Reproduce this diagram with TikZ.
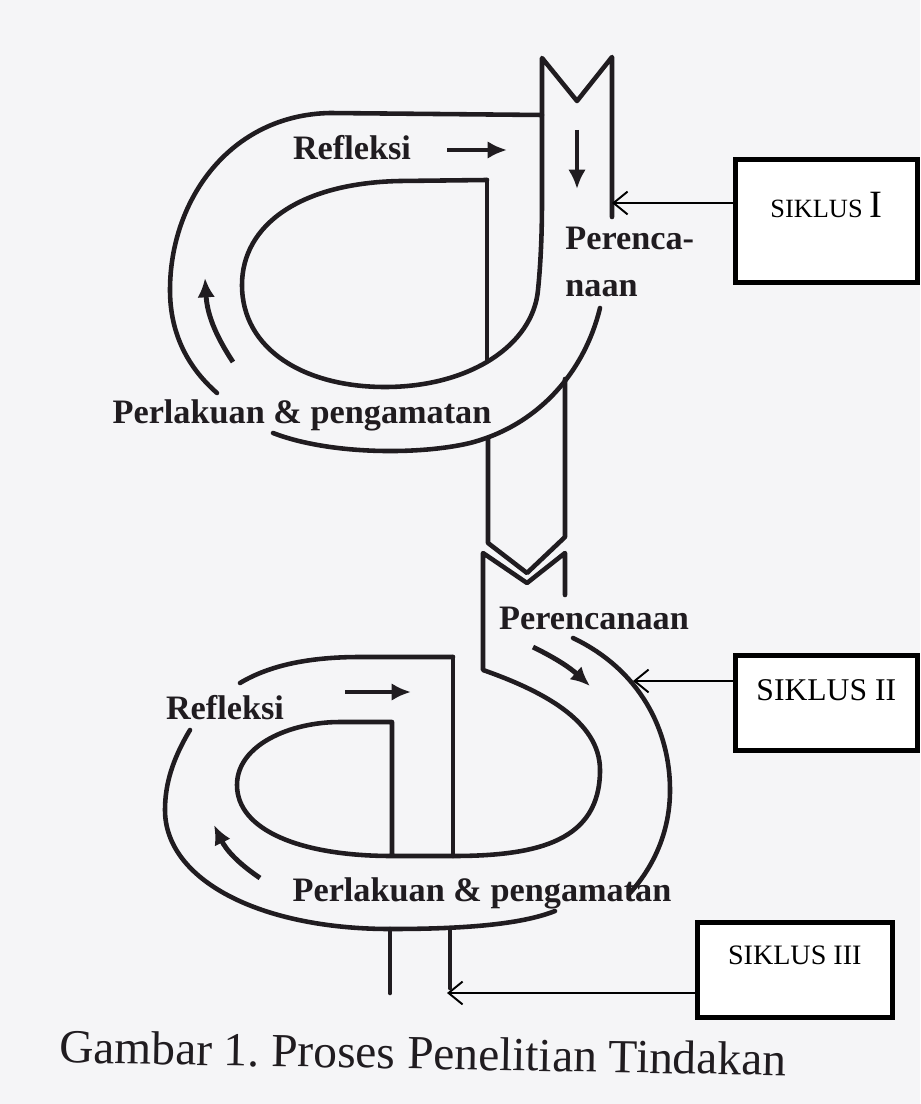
\documentclass[tikz,border=0pt]{standalone}
\usepackage{fontspec}
\setmainfont{Liberation Serif}
\usetikzlibrary{arrows.meta}

\definecolor{paper}{RGB}{245,245,247}
\definecolor{ink}{RGB}{32,28,32}

\begin{document}
\begin{tikzpicture}[x=0.02cm, y=-0.02cm,
    loop/.style={draw=ink, line width=2.6pt, line join=round, line cap=round},
    flow/.style={draw=ink, line width=2.8pt, -{Latex[length=11pt,width=10pt]}},
    lbl/.style={font=\fontsize{19.5}{26.5}\selectfont\bfseries, text=ink, inner sep=0pt},
    siklusbox/.style={draw=black, fill=white, line width=2.6pt, anchor=north west, align=center, inner sep=0pt},
    callout/.style={draw=black, line width=1.1pt, -{Straight Barb[length=8pt,width=13pt]}}]
  \fill[paper] (0,0) rectangle (920,1104);
  \useasboundingbox (0,0) rectangle (920,1104);

  % siklus I
  \draw[loop] (487,180) -- (400,181) .. controls (300,183) and (242,225) .. (242,285)
    .. controls (242,350) and (305,387) .. (385,387)
    .. controls (470,387) and (533,345) .. (538,290)
    .. controls (541,260) and (542,230) .. (542,200) -- (542,58) -- (577,101) -- (612,57) -- (612,217);
  \draw[loop] (487,180) -- (487,361);
  \draw[loop] (542,115) -- (330,113) .. controls (230,115) and (170,200) .. (170,290)
    .. controls (170,330) and (185,365) .. (217,393);
  \draw[loop] (600,308) .. controls (585,370) and (540,425) .. (470,443)
    .. controls (420,455) and (330,455) .. (273,433);
  \draw[loop] (565,379) -- (565,537) -- (527,573) -- (488,543) -- (488,438);

  % siklus II
  \draw[loop] (565,595) -- (565,553) -- (527,583) -- (483,553) -- (483,670)
    .. controls (540,690) and (600,720) .. (600,770)
    .. controls (600,840) and (540,856) .. (453,856) -- (392,856)
    .. controls (300,856) and (237,830) .. (237,785)
    .. controls (237,745) and (290,722) .. (340,722) -- (392,722) -- (392,856);
  \draw[loop] (453,657) -- (453,856);
  \draw[loop] (240,683) .. controls (270,665) and (310,657) .. (360,657) -- (453,657);
  \draw[loop] (573,638) .. controls (640,670) and (670,730) .. (670,790)
    .. controls (670,830) and (655,865) .. (630,893);
  \draw[loop] (190,730) .. controls (172,760) and (165,785) .. (165,810)
    .. controls (165,880) and (260,929) .. (390,929)
    .. controls (460,929) and (520,925) .. (555,911);
  \draw[loop] (390,929) -- (390,993);
  \draw[loop] (450,929) -- (450,988);

  % arah putaran
  \draw[flow] (447,150) -- (507,150);
  \draw[flow] (577,130) -- (577,189);
  \draw[flow] (233,362) to[bend left=15] (205,278);
  \draw[flow] (533,647) to[bend left=8] (590,686);
  \draw[flow] (345,692) -- (411,692);
  \draw[flow] (260,878) to[bend left=15] (214,825);

  \node[lbl] (refl1) at (352,148) {Refleksi};
  \node[lbl, anchor=north west, align=left] (renc1) at (565,227) {Perenca-\\naan};
  \node[lbl] (laku1) at (302,415) {Perlakuan \& pengamatan};
  \node[lbl] (renc2) at (594,618) {Perencanaan};
  \node[lbl] (refl2) at (225,708) {Refleksi};
  \node[lbl] (laku2) at (482,893) {Perlakuan \& pengamatan};

  % kotak siklus
  \coordinate (t1) at (612,203);
  \coordinate (t2) at (633,681);
  \coordinate (t3) at (447,993);
  \node[siklusbox, minimum width=3.64cm, minimum height=2.46cm, font=\fontsize{15}{17.6}\selectfont] (s1) at (733,157)
    {SIKLUS {\fontsize{22}{22}\selectfont I}\\\mbox{}};
  \node[siklusbox, minimum width=3.64cm, minimum height=1.9cm, font=\fontsize{18}{15}\selectfont] (s2) at (733,653)
    {SIKLUS II\\\mbox{}};
  \node[siklusbox, minimum width=3.9cm, minimum height=1.9cm, font=\fontsize{16}{16.5}\selectfont] (s3) at (695,920)
    {SIKLUS III\\\mbox{}};
  \draw[callout] (s1.west |- t1) -- (t1);
  \draw[callout] (s2.west |- t2) -- (t2);
  \draw[callout] (s3.west |- t3) -- (t3);

  \node[font=\fontsize{27}{30}\selectfont, text=ink, rotate=-1] (judul) at (423,1053)
    {Gambar 1.\ Proses Penelitian Tindakan};
\end{tikzpicture}
\end{document}
